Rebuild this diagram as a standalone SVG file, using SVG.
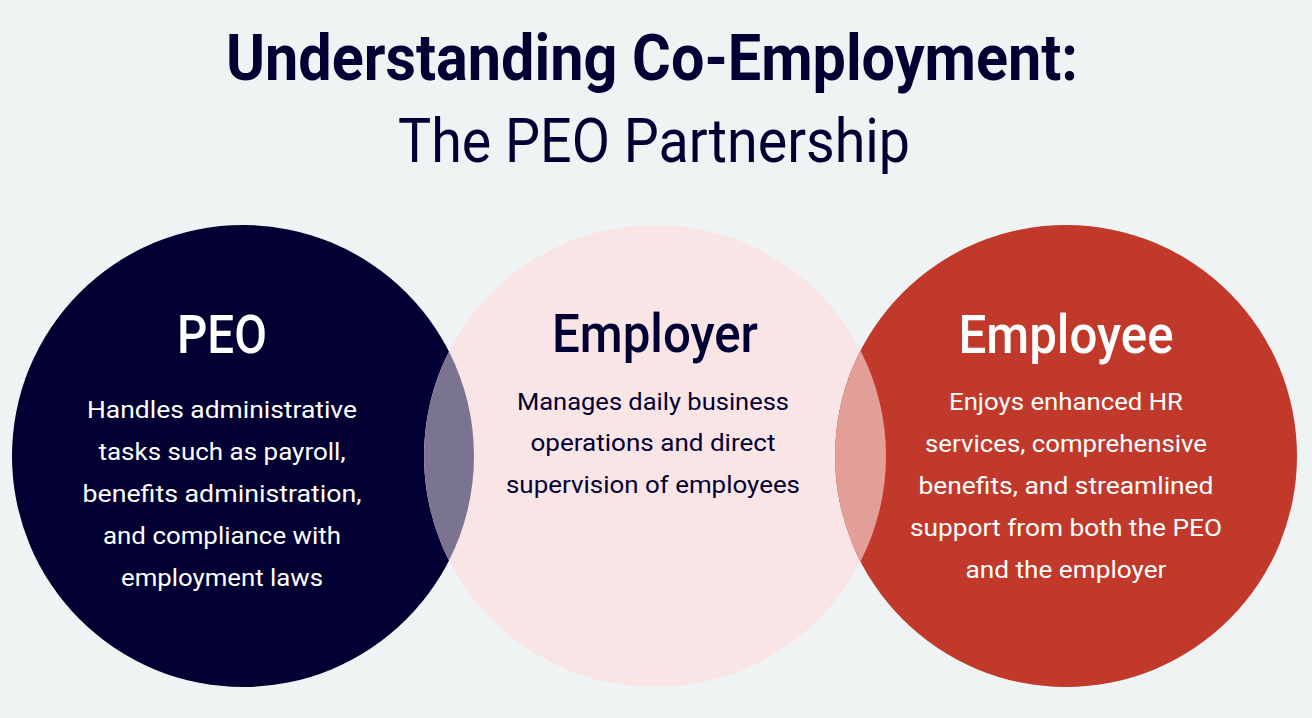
<svg xmlns="http://www.w3.org/2000/svg" width="1312" height="718" viewBox="0 0 1312 718">
<style>
.title{font-family:Roboto,"Open Sans",sans-serif;font-weight:700;font-size:64px;fill:#020033;text-anchor:middle}
.sub{font-family:Roboto,"Open Sans",sans-serif;font-weight:400;font-size:62px;fill:#020033;text-anchor:middle}
.head{font-family:Roboto,"Open Sans",sans-serif;font-weight:500;font-size:54px;text-anchor:middle}
.body{font-family:Roboto,"Open Sans",sans-serif;font-weight:400;font-size:23px;text-anchor:middle}
.light{fill:#ffffff}
.dark{fill:#020033}
</style>
<rect width="1312" height="718" fill="#EFF3F4"/>
<g id="title">
<text class="title" x="652" y="80" textLength="852" lengthAdjust="spacingAndGlyphs">Understanding Co-Employment:</text>
<text class="sub" x="654" y="162" textLength="512" lengthAdjust="spacingAndGlyphs">The PEO Partnership</text>
</g>
<g id="circles">
<circle id="peo-circle" cx="243" cy="456" r="231" fill="#020033"/>
<circle id="employer-circle" cx="655" cy="456" r="231" fill="#FAE5E6"/>
<circle id="employee-circle" cx="1066" cy="456" r="231" fill="#C0392B"/>
<path id="overlap-peo-employer" d="M449,351.5 A231,231 0 0 1 449,560.5 A231,231 0 0 1 449,351.5 Z" fill="#7A7490"/>
<path id="overlap-employer-employee" d="M860.5,350.5 A231,231 0 0 1 860.5,561.5 A231,231 0 0 1 860.5,350.5 Z" fill="#E29E97"/>
</g>
<g id="peo">
<text class="head light" x="222" y="353" textLength="90" lengthAdjust="spacingAndGlyphs">PEO</text>
<text class="body light" x="222" y="418" textLength="270" lengthAdjust="spacingAndGlyphs">Handles administrative</text>
<text class="body light" x="222" y="460" textLength="247" lengthAdjust="spacingAndGlyphs">tasks such as payroll,</text>
<text class="body light" x="222" y="502" textLength="279" lengthAdjust="spacingAndGlyphs">benefits administration,</text>
<text class="body light" x="222" y="544" textLength="238" lengthAdjust="spacingAndGlyphs">and compliance with</text>
<text class="body light" x="222" y="586" textLength="202" lengthAdjust="spacingAndGlyphs">employment laws</text>
</g>
<g id="employer">
<text class="head dark" x="655" y="352" textLength="206" lengthAdjust="spacingAndGlyphs">Employer</text>
<text class="body dark" x="653" y="410" textLength="272" lengthAdjust="spacingAndGlyphs">Manages daily business</text>
<text class="body dark" x="653" y="451" textLength="245" lengthAdjust="spacingAndGlyphs">operations and direct</text>
<text class="body dark" x="653" y="493" textLength="294" lengthAdjust="spacingAndGlyphs">supervision of employees</text>
</g>
<g id="employee">
<text class="head light" x="1066" y="353" textLength="215" lengthAdjust="spacingAndGlyphs">Employee</text>
<text class="body light" x="1066" y="410" textLength="234" lengthAdjust="spacingAndGlyphs">Enjoys enhanced HR</text>
<text class="body light" x="1066" y="452" textLength="282" lengthAdjust="spacingAndGlyphs">services, comprehensive</text>
<text class="body light" x="1066" y="494" textLength="295" lengthAdjust="spacingAndGlyphs">benefits, and streamlined</text>
<text class="body light" x="1066" y="536" textLength="312" lengthAdjust="spacingAndGlyphs">support from both the PEO</text>
<text class="body light" x="1066" y="578" textLength="201" lengthAdjust="spacingAndGlyphs">and the employer</text>
</g>
<g id="connectors"></g>
</svg>
